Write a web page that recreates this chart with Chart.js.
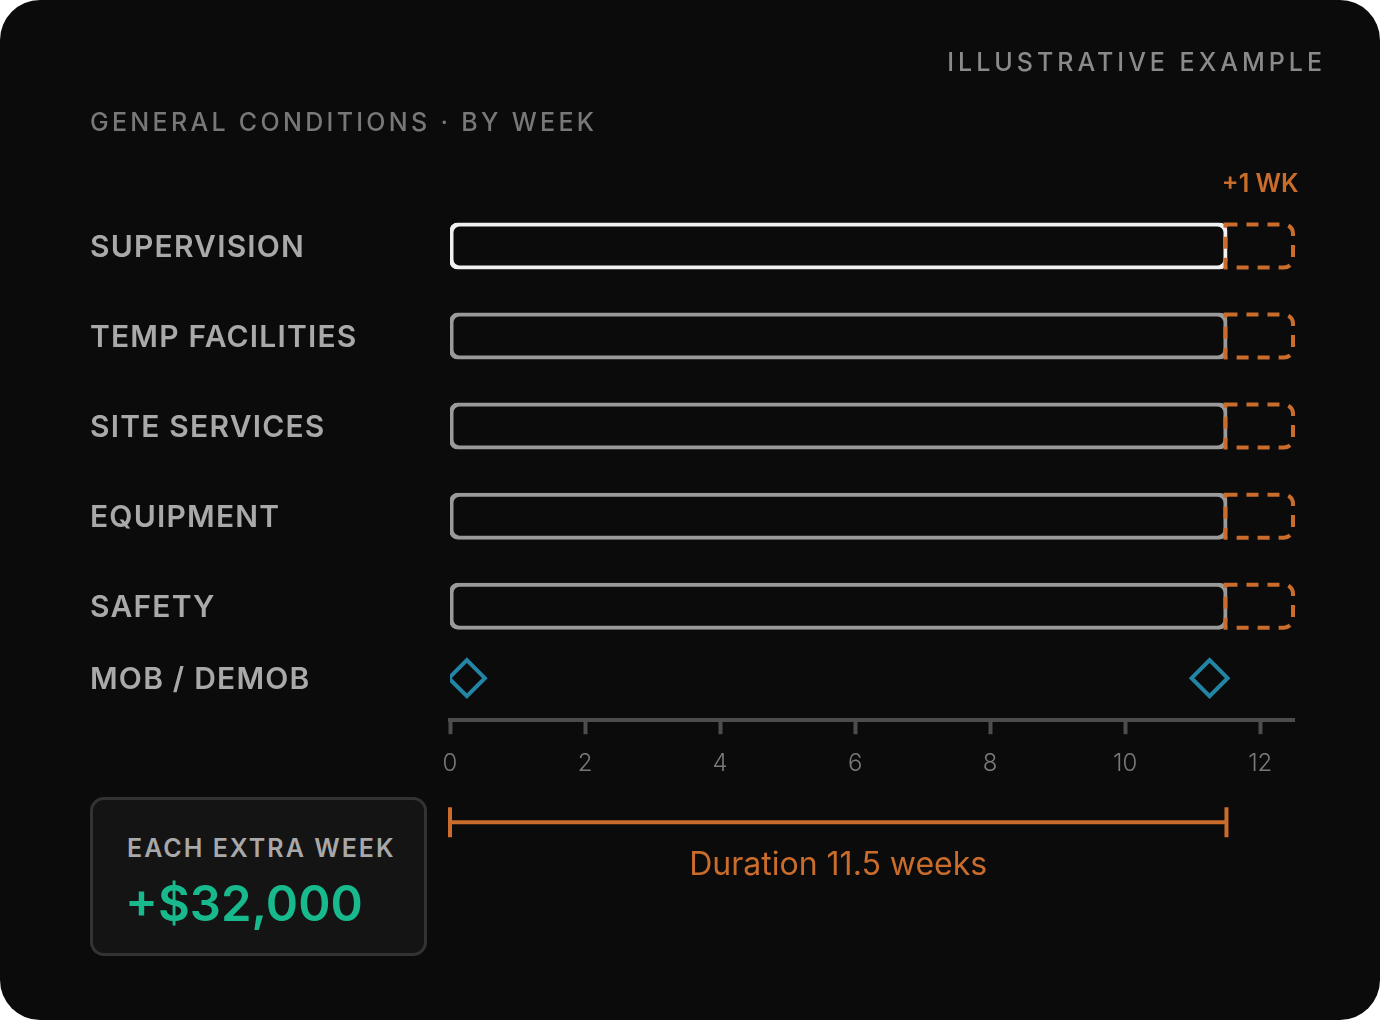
<!DOCTYPE html>
<html>
<head>
<meta charset="utf-8">
<title>General conditions by week</title>
<script src="https://cdn.jsdelivr.net/npm/chart.js@4.4.1/dist/chart.umd.min.js"></script>
<style>
  html, body { margin: 0; padding: 0; background: #ffffff; }
  .card {
    position: relative; width: 1380px; height: 1020px;
    background: #0b0b0b; border-radius: 40px; overflow: hidden;
    font-family: Inter, "Noto Sans", sans-serif;
  }
  #chart { position: absolute; left: 0; top: 0; }
  .tag {
    position: absolute; right: 54px; top: 50px;
    font-size: 25px; line-height: 25px; font-weight: 500;
    letter-spacing: 4px; color: #8a8a8a;
  }
  .title {
    position: absolute; left: 90px; top: 110px;
    font-size: 25px; line-height: 25px; font-weight: 500;
    letter-spacing: 3.3px; color: #787878;
  }
  .cost {
    position: absolute; left: 90px; top: 797px;
    width: 331px; height: 153px;
    border: 3px solid #333333; border-radius: 14px; background: #141414;
  }
  .cost-label {
    position: absolute; left: 127px; top: 836px;
    font-size: 25px; line-height: 25px; font-weight: 600;
    letter-spacing: 2px; color: #a8a8a8;
  }
  .cost-value {
    position: absolute; left: 125px; top: 879px;
    font-size: 49px; line-height: 49px; font-weight: 600;
    color: #18b98c;
  }
</style>
</head>
<body>
<div class="card">
  <canvas id="chart" width="1380" height="1020"></canvas>
  <div class="tag">ILLUSTRATIVE EXAMPLE</div>
  <div class="title">GENERAL CONDITIONS · BY WEEK</div>
  <div class="cost"></div>
  <div class="cost-label">EACH EXTRA WEEK</div>
  <div class="cost-value">+$32,000</div>
</div>
<script>
// rows and their values (weeks)
const categories = ['SUPERVISION', 'TEMP FACILITIES', 'SITE SERVICES', 'EQUIPMENT', 'SAFETY'];
const rowPos = [0, 1, 2, 3, 4];
const baseWeeks = [11.5, 11.5, 11.5, 11.5, 11.5];
const extraWeeks = [1, 1, 1, 1, 1];
const milestoneLabel = 'MOB / DEMOB';
const milestoneRow = 4.8;
const milestoneWeeks = [0.25, 11.25];
const weekTicks = [0, 2, 4, 6, 8, 10, 12];
const durationWeeks = 11.5;
const extraLabel = '+1 WK';

const ORANGE = '#c96c2c';
const barBorders = ['#f0f0f0', '#9a9a9a', '#9a9a9a', '#9a9a9a', '#9a9a9a'];

const overlay = {
  id: 'overlay',
  afterDatasetsDraw(chart) {
    const { ctx, chartArea, scales: { x, y } } = chart;
    const ext = chart.getDatasetMeta(1);

    // dashed "extra week" boxes
    ctx.save();
    ctx.strokeStyle = ORANGE;
    ctx.lineWidth = 4;
    ctx.setLineDash([12, 9]);
    ext.data.forEach(el => {
      const p = el.getProps(['x', 'y', 'base', 'height'], true);
      const l = p.base - 1, r = p.x - 1;
      const t = p.y - p.height / 2 + 1, b = p.y + p.height / 2 - 1, rad = 9;
      ctx.beginPath();
      ctx.moveTo(l, t);
      ctx.lineTo(r - rad, t);
      ctx.arcTo(r, t, r, t + rad, rad);
      ctx.lineTo(r, b - rad);
      ctx.arcTo(r, b, r - rad, b, rad);
      ctx.lineTo(l, b);
      ctx.closePath();
      ctx.stroke();
    });
    ctx.restore();

    // row labels
    ctx.save();
    ctx.letterSpacing = '1.2px';
    ctx.font = '600 30px Inter';
    ctx.textAlign = 'left';
    ctx.textBaseline = 'alphabetic';
    const labels = categories.concat([milestoneLabel]);
    const rows = rowPos.concat([milestoneRow]);
    labels.forEach((lab, i) => {
      ctx.fillStyle = '#a9a9a9';
      ctx.fillText(lab, 90, y.getPixelForValue(rows[i]) + 11);
    });
    ctx.restore();

    // +1 WK label
    ctx.save();
    ctx.font = '600 25px Inter';
    ctx.fillStyle = ORANGE;
    ctx.textAlign = 'center';
    ctx.textBaseline = 'middle';
    ctx.fillText(extraLabel, x.getPixelForValue(baseWeeks[0] + extraWeeks[0] / 2), y.getPixelForValue(rowPos[0]) - 62);
    ctx.restore();

    // duration bracket
    const x0 = x.getPixelForValue(0), x1 = x.getPixelForValue(durationWeeks);
    const by = chartArea.bottom + 102;
    ctx.save();
    ctx.strokeStyle = ORANGE;
    ctx.lineWidth = 4;
    ctx.beginPath();
    ctx.moveTo(x0, by); ctx.lineTo(x1, by);
    ctx.moveTo(x0, by - 15); ctx.lineTo(x0, by + 15);
    ctx.moveTo(x1, by - 15); ctx.lineTo(x1, by + 15);
    ctx.stroke();
    ctx.font = '400 32px Inter';
    ctx.fillStyle = ORANGE;
    ctx.textAlign = 'center';
    ctx.textBaseline = 'middle';
    ctx.fillText('Duration ' + durationWeeks + ' weeks', (x0 + x1) / 2, by + 43);
    ctx.restore();
  }
};

new Chart(document.getElementById('chart'), {
  type: 'bar',
  data: {
    datasets: [{
      label: 'Base',
      data: categories.map((c, i) => ({ y: rowPos[i], x: [0, baseWeeks[i]] })),
      backgroundColor: 'rgba(0,0,0,0)',
      borderColor: barBorders,
      borderWidth: 2,
      inflateAmount: 1,
      borderRadius: 8,
      borderSkipped: false,
      barThickness: 45,
      grouped: false
    }, {
      label: 'Extra',
      data: categories.map((c, i) => ({ y: rowPos[i], x: [baseWeeks[i], baseWeeks[i] + extraWeeks[i]] })),
      backgroundColor: 'rgba(0,0,0,0)',
      borderWidth: 0,
      barThickness: 45,
      grouped: false
    }, {
      type: 'scatter',
      label: 'Mob / Demob',
      data: milestoneWeeks.map(w => ({ x: w, y: milestoneRow })),
      pointStyle: 'rectRot',
      pointRadius: 18,
      borderColor: '#2285a4',
      backgroundColor: 'rgba(0,0,0,0)',
      borderWidth: 4
    }]
  },
  options: {
    indexAxis: 'y',
    responsive: false,
    animation: false,
    events: [],
    layout: { padding: { left: 450, right: 86, top: 156, bottom: 227 } },
    plugins: { legend: { display: false }, tooltip: { enabled: false } },
    scales: {
      x: {
        type: 'linear',
        min: 0,
        max: 12.5,
        afterBuildTicks: s => { s.ticks = weekTicks.map(v => ({ value: v })); },
        grid: { drawOnChartArea: false, drawTicks: true, tickLength: 14, tickWidth: 4, tickColor: '#4d4d4d' },
        border: { display: true, color: '#4d4d4d', width: 4 },
        ticks: {
          color: '#7a7a7a',
          font: { family: 'Inter', size: 24, weight: 300, lineHeight: 1.2 },
          padding: 15,
          autoSkip: false,
          maxRotation: 0
        }
      },
      y: {
        type: 'linear',
        reverse: true,
        offset: false,
        min: -1,
        max: 5.2667,
        display: false
      }
    }
  },
  plugins: [overlay]
});
</script>
</body>
</html>
